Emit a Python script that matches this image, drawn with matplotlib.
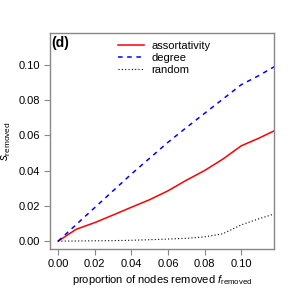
import matplotlib
matplotlib.use("Agg")
import matplotlib.pyplot as plt

plt.rcParams["font.family"] = ["Liberation Sans", "DejaVu Sans"]
plt.rcParams["mathtext.fontset"] = "custom"
plt.rcParams["mathtext.rm"] = "Liberation Sans"
plt.rcParams["mathtext.it"] = "Liberation Sans:italic"

f_removed = [0.0, 0.01, 0.02, 0.03, 0.04, 0.05, 0.06, 0.07, 0.08, 0.09, 0.10, 0.11, 0.12]
assortativity = [0.0, 0.0068, 0.0105, 0.0148, 0.0192, 0.0235, 0.0285, 0.0345, 0.0400,
                 0.0465, 0.0540, 0.0585, 0.0635]
degree = [0.0, 0.0095, 0.019, 0.0285, 0.038, 0.047, 0.056, 0.0643, 0.0724, 0.0805,
          0.0886, 0.094, 0.1000]
random_rm = [0.0, 0.0001, 0.0002, 0.0003, 0.0005, 0.0008, 0.0012, 0.0016, 0.0024,
             0.0042, 0.0092, 0.0128, 0.0160]
ticks = [0.0, 0.02, 0.04, 0.06, 0.08, 0.10]

fig = plt.figure(figsize=(2.91, 2.91), dpi=100)
ax = fig.add_axes([0.172, 0.144, 0.770, 0.743])

ax.plot(f_removed, assortativity, color="#ff0000", lw=1.1, label="assortativity")
ax.plot(f_removed, degree, color="#0000ff", lw=1.1, ls=(0, (3, 3)), label="degree")
ax.plot(f_removed, random_rm, color="black", lw=0.8, ls=(0, (1, 2)), label="random")

ax.set_xlim(-0.0044, 0.118)
ax.set_ylim(-0.0045, 0.118)
ax.set_xticks(ticks)
ax.set_yticks(ticks)
ax.set_xticklabels([f"{t:.2f}" for t in ticks])
ax.set_yticklabels([f"{t:.2f}" for t in ticks])
ax.tick_params(labelsize=8, length=4, color="#888888", pad=3)
for s in ax.spines.values():
    s.set_color("#888888")
    s.set_linewidth(1.0)

ax.set_xlabel(r"proportion of nodes removed $f_\mathrm{removed}$", fontsize=8, labelpad=3)
ax.set_ylabel(r"$s_\mathrm{removed}$", fontsize=8.5, labelpad=4)

ax.text(0.005, 0.985, "(d)", transform=ax.transAxes, fontsize=10, fontweight="bold",
        va="top", ha="left")

ax.legend(loc="upper center", bbox_to_anchor=(0.51, 1.01), frameon=False, fontsize=8,
          handlelength=2.3, handletextpad=0.7, labelspacing=0.2)

fig.savefig("out.png", dpi=100)
